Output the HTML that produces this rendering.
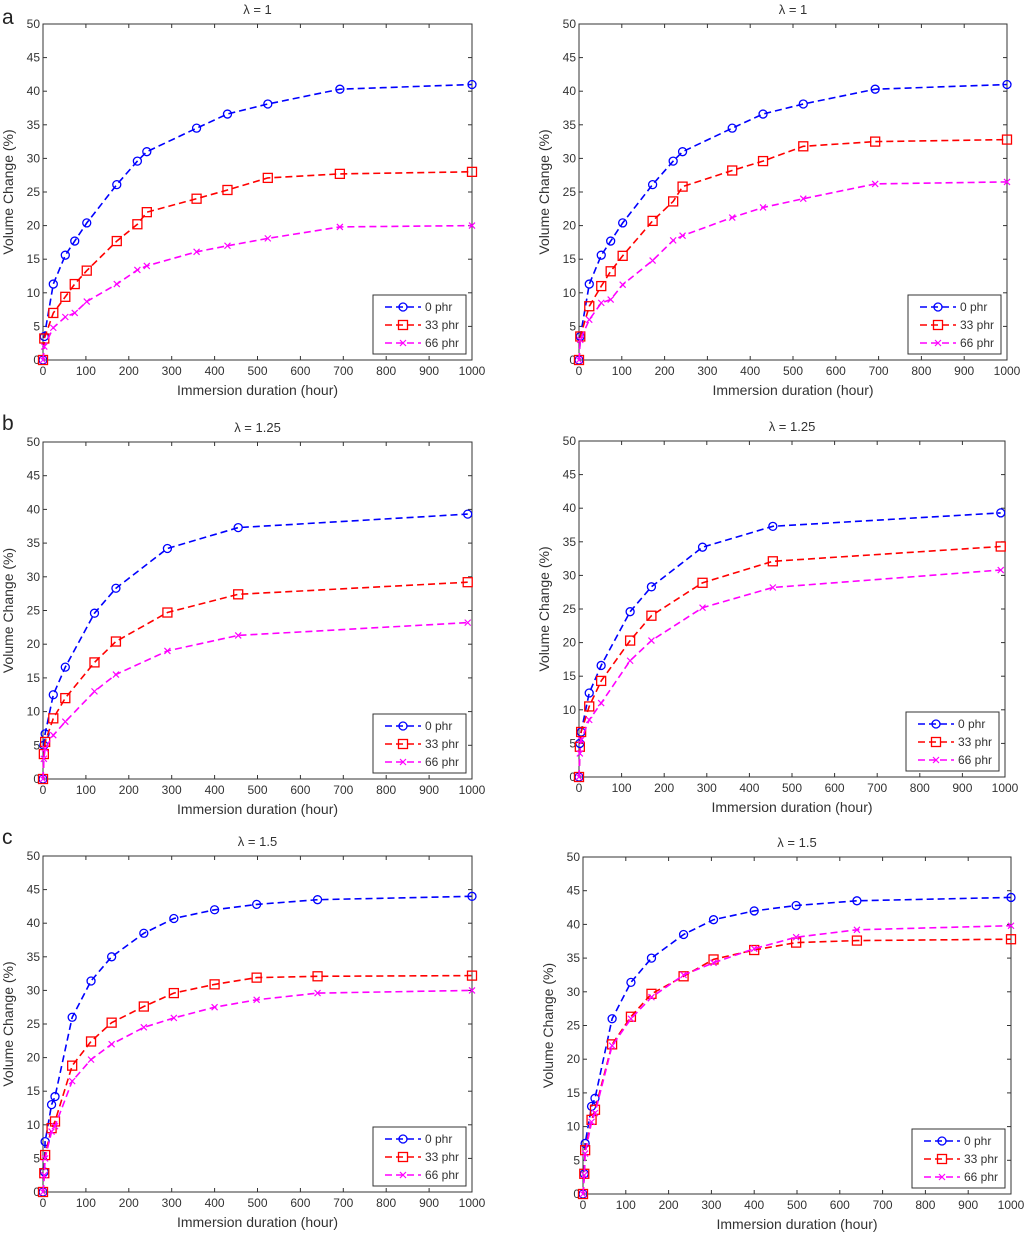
<!DOCTYPE html>
<html><head><meta charset="utf-8"><style>
body{margin:0;background:#fff}
svg{display:block;font-family:"Liberation Sans",sans-serif}
</style></head><body>
<svg id="root" width="1024" height="1233" viewBox="0 0 1024 1233">
<text x="2" y="24" font-size="21" fill="#222">a</text>
<text x="2" y="430" font-size="21" fill="#222">b</text>
<text x="2" y="844" font-size="21" fill="#222">c</text>
</svg>
<script>
const xTicks=[0,100,200,300,400,500,600,700,800,900,1000];
const yTicks=[0,5,10,15,20,25,30,35,40,45,50];
const seriesNames=["0 phr","33 phr","66 phr"];
const xA=[0,3,24,52,74,102,172,220,242,358,430,524,692,1000];
const a0=[0,3.5,11.3,15.6,17.7,20.4,26.1,29.6,31,34.5,36.6,38.1,40.3,41];
const aL33=[0,3.2,7,9.4,11.3,13.3,17.7,20.2,22,24,25.3,27.1,27.7,28];
const aL66=[0,2,4.8,6.4,7,8.7,11.3,13.4,14,16.1,17,18.1,19.8,20];
const aR33=[0,3.5,8,11,13.2,15.5,20.7,23.6,25.8,28.2,29.6,31.8,32.5,32.8];
const aR66=[0,3,6,8.5,9,11.2,14.8,17.8,18.5,21.2,22.7,24,26.2,26.5];
const xB=[0,2,5,24,52,120,170,290,455,990];
const b0=[0,5,6.7,12.5,16.6,24.6,28.3,34.2,37.3,39.3];
const bL33=[0,3.7,5.5,9,12,17.3,20.4,24.7,27.4,29.2];
const bL66=[0,3,4.5,6.5,8.5,13,15.5,19,21.3,23.2];
const bR33=[0,4.5,6.7,10.5,14.3,20.3,24,28.9,32.1,34.3];
const bR66=[0,3.5,5.5,8.5,11,17.3,20.3,25.2,28.2,30.8];
const xC=[0,3,5,20,28,68,112,160,235,305,400,498,640,1000];
const c0=[0,3,7.5,13,14.2,26,31.4,35,38.5,40.7,42,42.8,43.5,44];
const cL33=[0,2.8,5.5,9.5,10.5,18.8,22.4,25.2,27.6,29.6,30.9,31.9,32.1,32.2];
const cL66=[0,2.5,5,9,9.8,16.5,19.7,22,24.5,25.9,27.5,28.6,29.6,30];
const cR33=[0,3,6.5,11,12.5,22.2,26.3,29.7,32.3,34.8,36.2,37.3,37.6,37.8];
const cR66=[0,2.8,6,10.7,12,22,26,29.2,32.5,34.3,36.4,38.1,39.2,39.8];

const panels=[
 {id:"a-left",title:"λ = 1",x0:43,x1:472,y0:24,y1:360,xs:xA,ys:[a0,aL33,aL66]},
 {id:"a-right",title:"λ = 1",x0:579,x1:1007,y0:24,y1:360,xs:xA,ys:[a0,aR33,aR66]},
 {id:"b-left",title:"λ = 1.25",x0:43,x1:472,y0:442,y1:779,xs:xB,ys:[b0,bL33,bL66]},
 {id:"b-right",title:"λ = 1.25",x0:579,x1:1005,y0:441,y1:777,xs:xB,ys:[b0,bR33,bR66]},
 {id:"c-left",title:"λ = 1.5",x0:43,x1:472,y0:856,y1:1192,xs:xC,ys:[c0,cL33,cL66]},
 {id:"c-right",title:"λ = 1.5",x0:583,x1:1011,y0:857,y1:1194,xs:xC,ys:[c0,cR33,cR66]}
];
const colors=["#0000ff","#ff0000","#ff00ff"];
const NS="http://www.w3.org/2000/svg";
const root=document.getElementById("root");
function mk(tag,attrs,parent){const e=document.createElementNS(NS,tag);for(const k in attrs)e.setAttribute(k,attrs[k]);parent.appendChild(e);return e;}
function marker(g,k,px,py,col){
 if(k===0){const m=mk("circle",{cx:px,cy:py,r:4,fill:"none",stroke:col,"stroke-width":1.3},g);}
 else if(k===1){const m=mk("rect",{x:px-4.5,y:py-4.5,width:9,height:9,fill:"none",stroke:col,"stroke-width":1.3},g);}
 else{const m=mk("path",{d:`M${px-3},${py-3}L${px+3},${py+3}M${px-3},${py+3}L${px+3},${py-3}`,stroke:col,"stroke-width":1.2},g);}
}
panels.forEach(p=>{
 const g=mk("g",{},root);
 
 
 const sx=v=>p.x0+(v-0)/(1000)*(p.x1-p.x0);
 const sy=v=>p.y1-(v/50)*(p.y1-p.y0);
 const t=mk("text",{x:(p.x0+p.x1)/2,y:p.y0-10,"text-anchor":"middle","font-size":13,fill:"#333"},g);t.textContent=p.title;
 
 const ax=mk("rect",{x:p.x0,y:p.y0,width:p.x1-p.x0,height:p.y1-p.y0,fill:"none",stroke:"#333","stroke-width":1},g);
 
 xTicks.forEach(v=>{const X=sx(v);
  mk("line",{x1:X,y1:p.y1,x2:X,y2:p.y1-4,stroke:"#333"},g);mk("line",{x1:X,y1:p.y0,x2:X,y2:p.y0+4,stroke:"#333"},g);
  const l=mk("text",{x:X,y:p.y1+15,"text-anchor":"middle","font-size":12,fill:"#333"},g);l.textContent=v;
  });
 yTicks.forEach(v=>{const Y=sy(v);
  mk("line",{x1:p.x0,y1:Y,x2:p.x0+4,y2:Y,stroke:"#333"},g);mk("line",{x1:p.x1,y1:Y,x2:p.x1-4,y2:Y,stroke:"#333"},g);
  const l=mk("text",{x:p.x0-3,y:Y+4,"text-anchor":"end","font-size":12,fill:"#333"},g);l.textContent=v;
  });
 const xl=mk("text",{x:(p.x0+p.x1)/2,y:p.y1+35,"text-anchor":"middle","font-size":14,fill:"#333"},g);xl.textContent="Immersion duration (hour)";
 
 const yc=(p.y0+p.y1)/2;
 const yl=mk("text",{x:p.x0-30,y:yc,"text-anchor":"middle","font-size":14,fill:"#333",transform:`rotate(-90 ${p.x0-30} ${yc})`},g);yl.textContent="Volume Change (%)";
 
 p.ys.forEach((arr,k)=>{
  const d=arr.map((v,i)=>(i?"L":"M")+sx(p.xs[i]).toFixed(1)+","+sy(v).toFixed(1)).join("");
  const ln=mk("path",{d:d,fill:"none",stroke:colors[k],"stroke-width":1.6,"stroke-dasharray":"7,4"},g);
  
  arr.forEach((v,i)=>marker(g,k,sx(p.xs[i]),sy(v),colors[k]));
 });
 const lx=p.x1-99,ly=p.y1-65;
 const lg=mk("g",{},g);
 mk("rect",{x:lx,y:ly,width:93,height:59,fill:"#fff",stroke:"#333"},lg);
 seriesNames.forEach((n,k)=>{const Y=ly+12+k*18;
  mk("line",{x1:lx+12,y1:Y,x2:lx+48,y2:Y,stroke:colors[k],"stroke-width":1.6,"stroke-dasharray":"7,4"},lg);
  marker(lg,k,lx+30,Y,colors[k]);
  const tt=mk("text",{x:lx+52,y:Y+4,"font-size":12,fill:"#333"},lg);tt.textContent=n;
  });
});
</script>
</body></html>
